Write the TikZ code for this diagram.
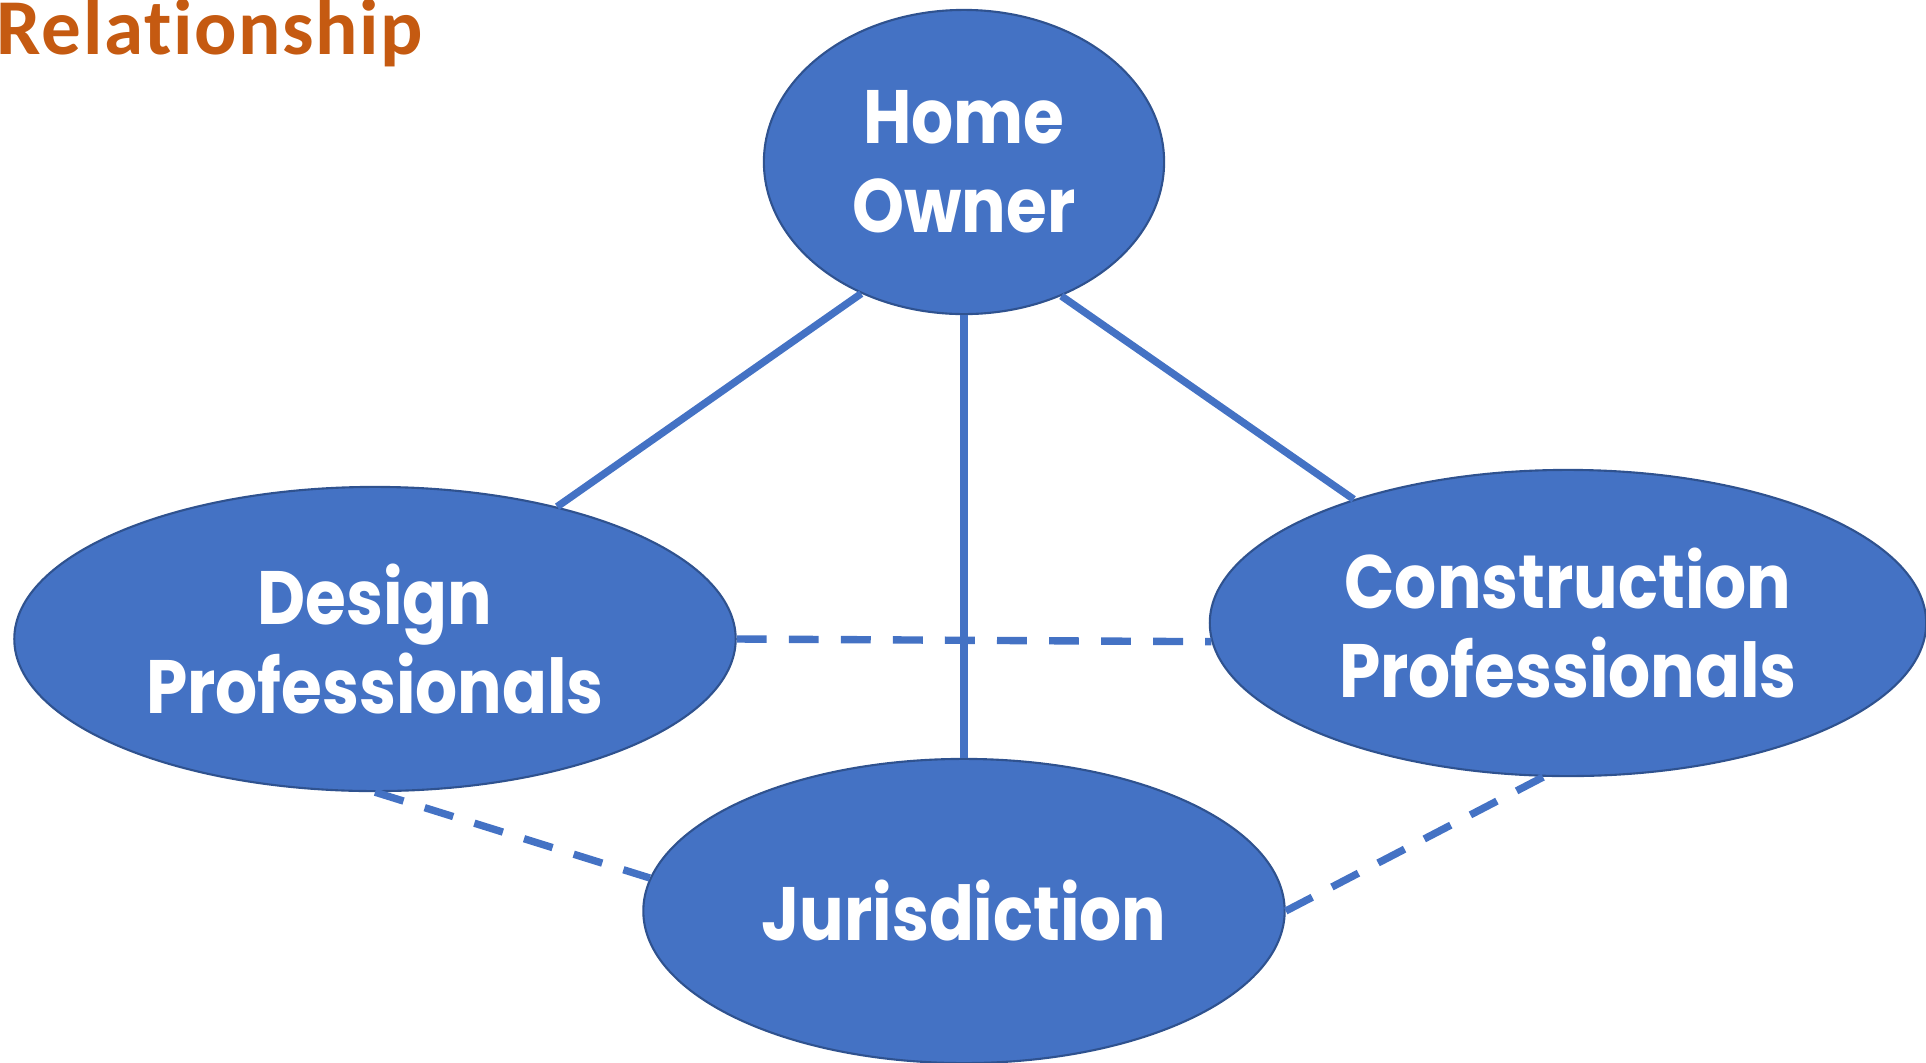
\documentclass[tikz,border=0pt]{standalone}
\usepackage{fontspec}
\setmainfont{Poppins}[FakeStretch=0.875]
\newfontfamily\titlefont{Carlito}[Ligatures=NoCommon, LetterSpace=2]
\usetikzlibrary{shapes.geometric}
\definecolor{partyblue}{HTML}{4472C4}
\definecolor{partyedge}{HTML}{2F528F}
\definecolor{titleorange}{HTML}{C55A11}
\tikzset{
    party/.style={ellipse, fill=partyblue, draw=partyedge, line width=0.6pt, inner sep=0pt,
        text=white, align=center, font=\bfseries\fontsize{21.5}{25.2}\selectfont},
    tie/.style={draw=partyblue, line width=2.1pt},
    looktie/.style={tie, dash pattern=on 8.5pt off 6.3pt}
}
\begin{document}
\begin{tikzpicture}[x=0.01cm, y=-0.01cm]
        \useasboundingbox (0,0) rectangle (1926,1063);
        \node[anchor=base west, text=titleorange, font=\titlefont\bfseries\fontsize{22.5}{26}\selectfont, inner sep=0pt] (title) at (-4,54) {Relationship};

        \node[party, minimum width=4cm, minimum height=3.04cm] (owner) at (964,162) {Home\\Owner};
        \node[party, minimum width=7.21cm, minimum height=3.04cm] (design) at (375,639) {Design\\Professionals};
        \node[party, minimum width=7.16cm, minimum height=3.06cm] (build) at (1568,623) {Construction\\Professionals};
        \node[party, minimum width=6.41cm, minimum height=3.04cm] (juris) at (964,911) {Jurisdiction};

        \draw[tie] (owner.232.6) -- (design.36.5);
        \draw[tie] (owner.306.6) -- (build.150.6);
        \draw[tie] (owner.south) -- (juris.north);
        \draw[looktie] (design.east) -- (build.183.8);
        \draw[looktie] (design.south) -- (juris.174.7);
        \draw[looktie] (juris.east) -- (build.261.5);
    \end{tikzpicture}
\end{document}
